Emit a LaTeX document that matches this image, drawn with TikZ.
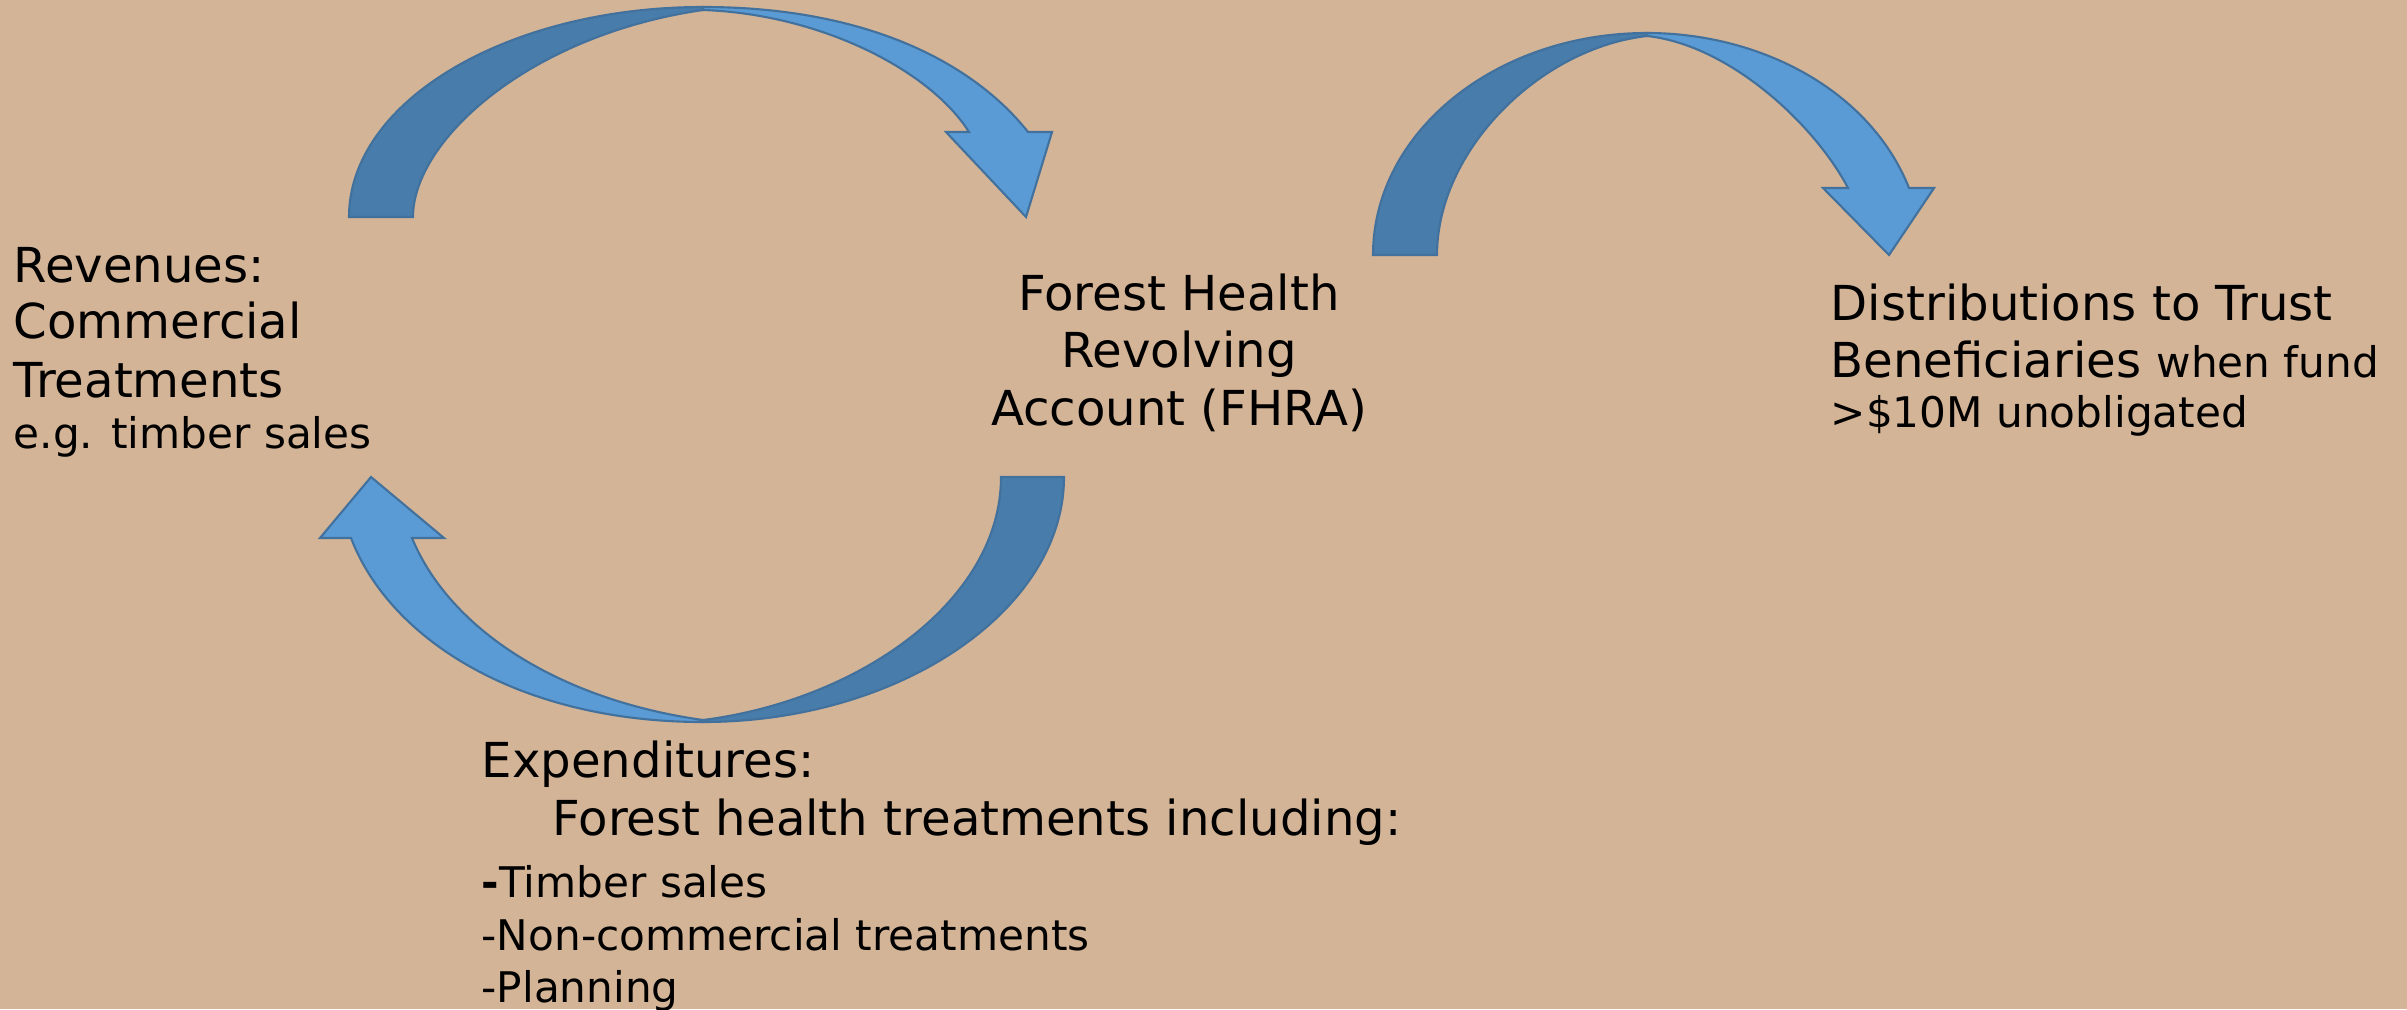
\documentclass[tikz,border=0pt]{standalone}
\usepackage{fontspec}
\setmainfont{DejaVu Sans}
\definecolor{bgtan}{RGB}{211,180,151}
\definecolor{arrowlight}{RGB}{91,155,213}
\definecolor{arrowdark}{RGB}{72,124,170}
\definecolor{arrowline}{RGB}{65,113,156}

\begin{document}
\begin{tikzpicture}[x=0.01cm,y=-0.01cm,
    back/.style={fill=arrowdark,draw=arrowline,line width=0.6pt},
    front/.style={fill=arrowlight,draw=arrowline,line width=0.6pt},
    big/.style={font=\fontsize{13.7}{16}\selectfont,inner sep=0pt},
    small/.style={font=\fontsize{12}{14}\selectfont,inner sep=0pt}]
\fill[bgtan] (0,0) rectangle (2407,1009);
\useasboundingbox (0,0) rectangle (2407,1009);

% revenues to the account
\draw[back] (349,217) .. controls (349,101) and (508,7) .. (703,7) -- (703,10)
    .. controls (530,35) and (413,140) .. (413,217) -- cycle;
\draw[front] (703,7) .. controls (870,7) and (975,65) .. (1028,132) -- (1052,132)
    -- (1026,217) -- (946,132) -- (969,132) .. controls (930,70) and (820,14) .. (703,10) -- cycle;

% account to expenditures and back to revenues
\draw[back] (1064,477) .. controls (1064,610) and (900,722) .. (703,722) -- (703,720)
    .. controls (860,700) and (1001,600) .. (1001,477) -- cycle;
\draw[front] (703,722) .. controls (520,722) and (390,640) .. (351,538) -- (320,538)
    -- (371,477) -- (444,538) -- (412,538) .. controls (450,630) and (560,700) .. (703,720) -- cycle;

% account to distributions
\draw[back] (1373,255) .. controls (1373,132) and (1496,33) .. (1647,33) -- (1647,36)
    .. controls (1540,48) and (1437,150) .. (1437,255) -- cycle;
\draw[front] (1647,33) .. controls (1760,33) and (1870,90) .. (1909,188) -- (1934,188)
    -- (1889,255) -- (1823,188) -- (1848,188) .. controls (1815,125) and (1730,45) .. (1647,36) -- cycle;

% revenues
\node[big,anchor=base west] (rev1) at (13,282) {Revenues:};
\node[big,anchor=base west] (rev2) at (13,338) {Commercial};
\node[big,anchor=base west] (rev3) at (13,397) {Treatments};
\node[small,anchor=base west] (rev4) at (13,448) {e.g. timber sales};

% account
\node[big,anchor=base] (fhra1) at (1179,310) {Forest Health};
\node[big,anchor=base] (fhra2) at (1179,367) {Revolving};
\node[big,anchor=base] (fhra3) at (1179,425) {Account (FHRA)};

% distributions
\node[big,anchor=base west] (dist1) at (1830,320) {Distributions to Trust};
\node[big,anchor=base west] (dist2) at (1830,377) {Beneficiaries {\fontsize{12}{14}\selectfont when fund}};
\node[small,anchor=base west] (dist3) at (1830,427) {>\$10M unobligated};

% expenditures
\node[big,anchor=base west] (exp1) at (481,777) {Expenditures:};
\node[big,anchor=base west] (exp2) at (552,835) {Forest health treatments including:};
\node[small,anchor=base west] (exp3) at (481,897) {\textbf{-}Timber sales};
\node[small,anchor=base west] (exp4) at (481,950) {-Non-commercial treatments};
\node[small,anchor=base west] (exp5) at (481,1002) {-Planning};
\end{tikzpicture}
\end{document}
